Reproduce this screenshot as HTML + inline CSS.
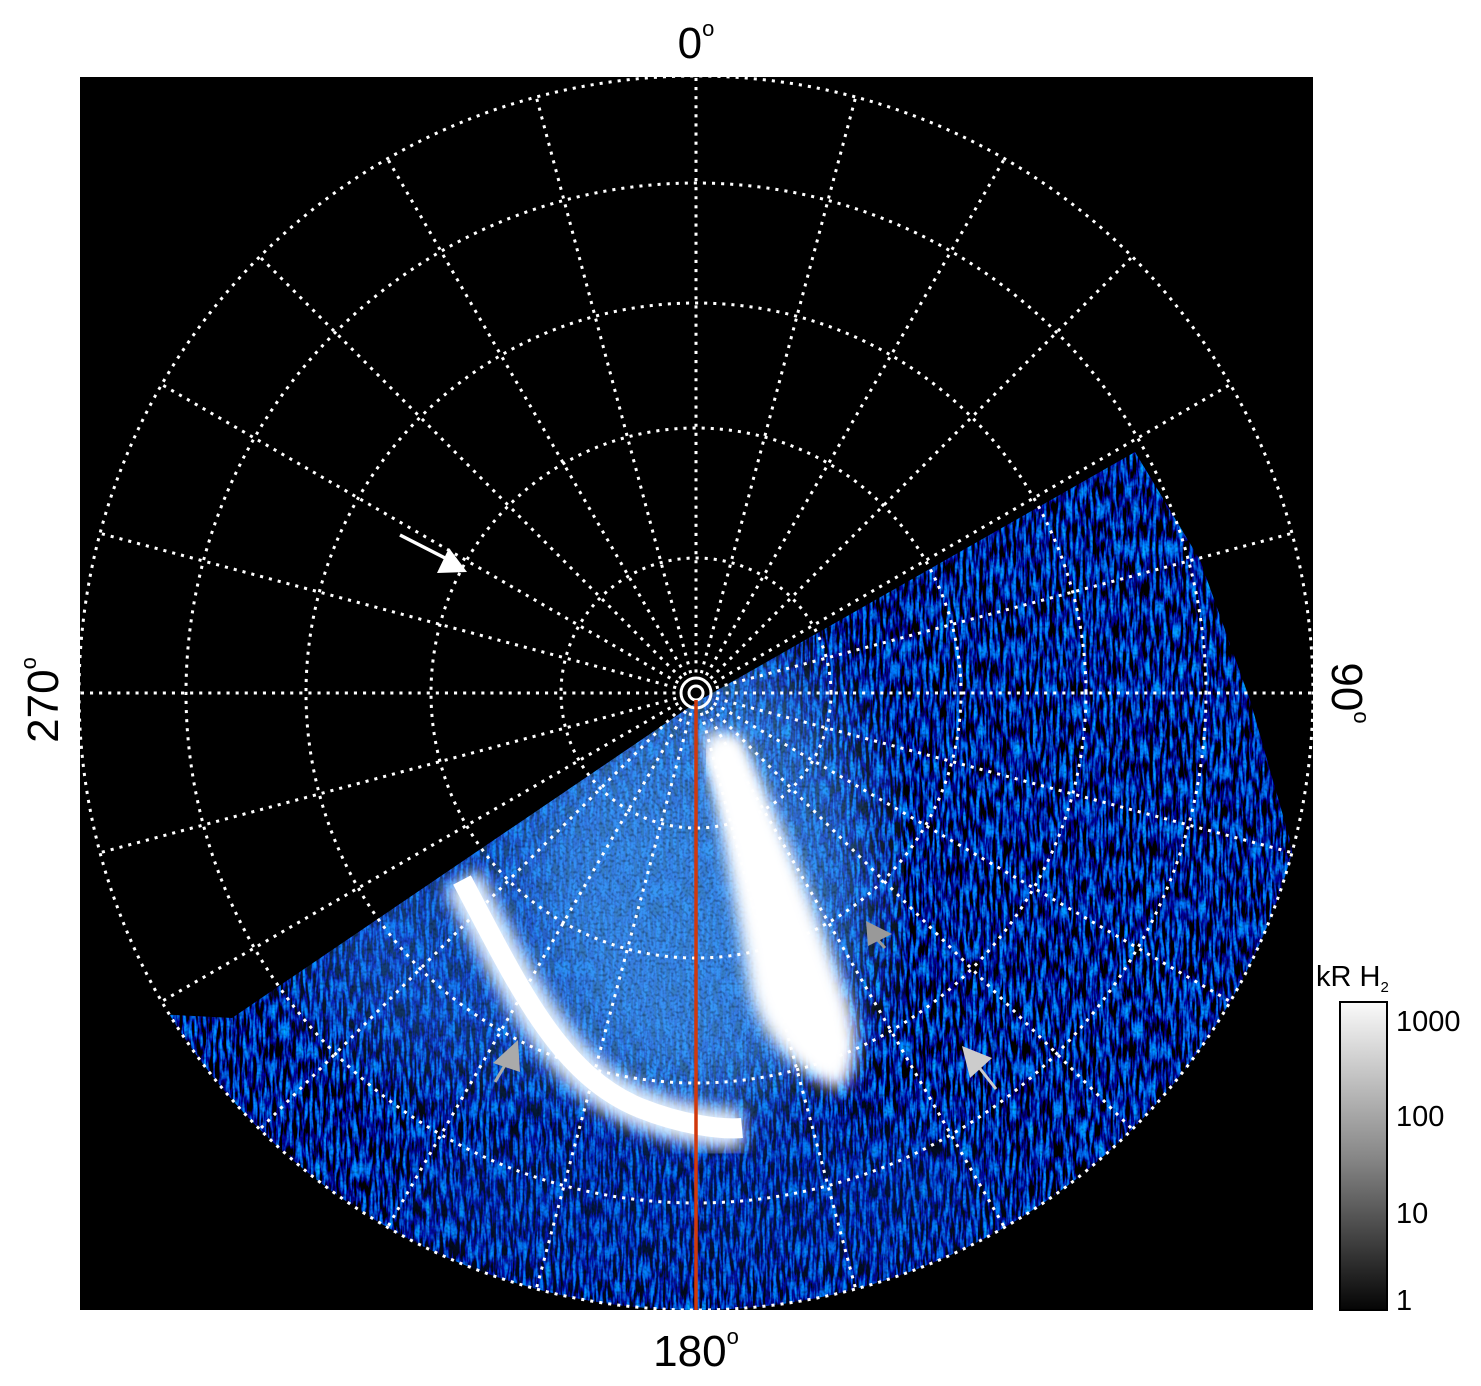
<!DOCTYPE html>
<html><head><meta charset="utf-8"><style>
html,body{margin:0;padding:0;background:#fff;overflow:hidden;width:1481px;height:1386px;}
svg{position:absolute;left:0;top:0;font-family:"Liberation Sans",sans-serif;overflow:hidden;}
</style></head><body>
<svg id="s" width="1481" height="1386" viewBox="0 0 1481 1386" xmlns="http://www.w3.org/2000/svg">
<defs>
<clipPath id="disk"><circle cx="696" cy="693" r="617"/></clipPath>
<clipPath id="half"><polygon points="700,700 1135,452 1200,560 1250,700 1290,840 1300,900 1313,900 1313,1310 80,1310 80,1010 232,1018"/></clipPath>
<filter id="noise" x="0" y="0" width="100%" height="100%">
<feTurbulence type="fractalNoise" baseFrequency="0.3 0.05" numOctaves="2" seed="3"/>
<feColorMatrix type="matrix" values="0 0 0 0 0  1.2 0 0 0 -0.6  3.6 0 0 0 -1.4  0 0 0 0 1"/>
</filter>
<filter id="noise2" x="0" y="0" width="100%" height="100%">
<feTurbulence type="fractalNoise" baseFrequency="0.35" numOctaves="1" seed="7"/>
<feColorMatrix type="matrix" values="0 0 0 0 0  0 0 0 0 0  0 0 0 0 0  -3 0 0 0 1.6  "/>
</filter>
<filter id="blur6"><feGaussianBlur stdDeviation="6"/></filter>
<filter id="blur8"><feGaussianBlur stdDeviation="8"/></filter>
<filter id="blur25"><feGaussianBlur stdDeviation="40"/></filter>
<linearGradient id="cb" x1="0" y1="0" x2="0" y2="1"><stop offset="0" stop-color="#fafafa"/><stop offset="0.5" stop-color="#888"/><stop offset="1" stop-color="#050505"/></linearGradient>
</defs>
<rect x="80" y="77" width="1233" height="1233" fill="#000"/>
<g clip-path="url(#disk)"><g clip-path="url(#half)">
<rect x="80" y="440" width="1233" height="870" filter="url(#noise)"/>
<ellipse cx="560" cy="930" rx="260" ry="160" fill="#2a80f0" opacity="0.5" filter="url(#blur25)"/>
<ellipse cx="700" cy="880" rx="170" ry="240" fill="#4aa0f5" opacity="0.65" filter="url(#blur25)"/>
<ellipse cx="700" cy="1200" rx="300" ry="90" fill="#1050d0" opacity="0.3" filter="url(#blur25)"/>
<rect x="80" y="440" width="1233" height="870" filter="url(#noise2)" opacity="0.35"/>
<path d="M462,880 C520,990 560,1075 640,1108 C680,1124 720,1130 742,1128" stroke="#e8f4ff" stroke-width="40" fill="none" filter="url(#blur8)"/>
<path d="M462,880 C520,990 560,1075 640,1108 C680,1124 720,1130 742,1128" stroke="#fff" stroke-width="20" fill="none"/>
<path d="M703,730 C715,800 735,900 748,980 C755,1030 790,1070 840,1090 C860,1070 860,1030 845,990 C820,920 785,830 740,735 Z" fill="#fff" filter="url(#blur8)"/>
<path d="M718,745 C745,810 770,890 790,970 C800,1010 815,1040 835,1060" stroke="#fff" stroke-width="34" fill="none" filter="url(#blur6)"/>
</g></g>
<g id="grid" stroke="#fff" stroke-width="3" stroke-dasharray="0.1 9" stroke-linecap="square" fill="none"></g>
<circle cx="696" cy="693" r="7" fill="none" stroke="#fff" stroke-width="3"/>
<circle cx="696" cy="693" r="15" fill="none" stroke="#fff" stroke-width="3"/>
<line x1="696" y1="700" x2="696" y2="1310" stroke="#d0380c" stroke-width="3.5"/>
<line x1="400" y1="535" x2="445" y2="558" stroke="#fff" stroke-width="3.5"/>
<polygon points="467,572 437,573 449,548" fill="#fff"/>
<line x1="495" y1="1082" x2="508" y2="1060" stroke="#aaa" stroke-width="3"/>
<polygon points="518,1040 520,1072 493,1063" fill="#aaa"/>
<line x1="885" y1="948" x2="876" y2="938" stroke="#999" stroke-width="3"/>
<polygon points="892,934 866,921 868,946" fill="#999"/>
<line x1="996" y1="1089" x2="978" y2="1066" stroke="#ccc" stroke-width="3"/>
<polygon points="962,1046 992,1058 970,1078" fill="#ccc"/>
<g font-size="44" fill="#000">
<text x="696" y="58" text-anchor="middle">0<tspan font-size="22" dy="-22">o</tspan></text>
<text x="696" y="1366" text-anchor="middle">180<tspan font-size="22" dy="-22">o</tspan></text>
<text transform="translate(58 700) rotate(-90)" text-anchor="middle">270<tspan font-size="22" dy="-22">o</tspan></text>
<text transform="translate(1332 693) rotate(90)" text-anchor="middle">90<tspan font-size="22" dy="-22">o</tspan></text>
</g>
<rect x="1340" y="1002" width="47" height="308" fill="url(#cb)" stroke="#000" stroke-width="2"/>
<g font-size="29" fill="#000">
<text x="1316" y="986">kR H<tspan font-size="15" dy="6">2</tspan></text>
<text x="1396" y="1031">1000</text>
<text x="1396" y="1126">100</text>
<text x="1396" y="1223">10</text>
<text x="1396" y="1310">1</text>
</g>
</svg>
<script>
var g=document.getElementById('grid'),ns='http://www.w3.org/2000/svg',cx=696,cy=693;
[617,510,390,265,135].forEach(function(r){var c=document.createElementNS(ns,'circle');c.setAttribute('cx',cx);c.setAttribute('cy',cy);c.setAttribute('r',r);g.appendChild(c);});
for(var i=0;i<24;i++){var a=i*15*Math.PI/180,l=document.createElementNS(ns,'line');
l.setAttribute('x1',cx+22*Math.sin(a));l.setAttribute('y1',cy-22*Math.cos(a));
l.setAttribute('x2',cx+617*Math.sin(a));l.setAttribute('y2',cy-617*Math.cos(a));g.appendChild(l);}
</script>
</body></html>
